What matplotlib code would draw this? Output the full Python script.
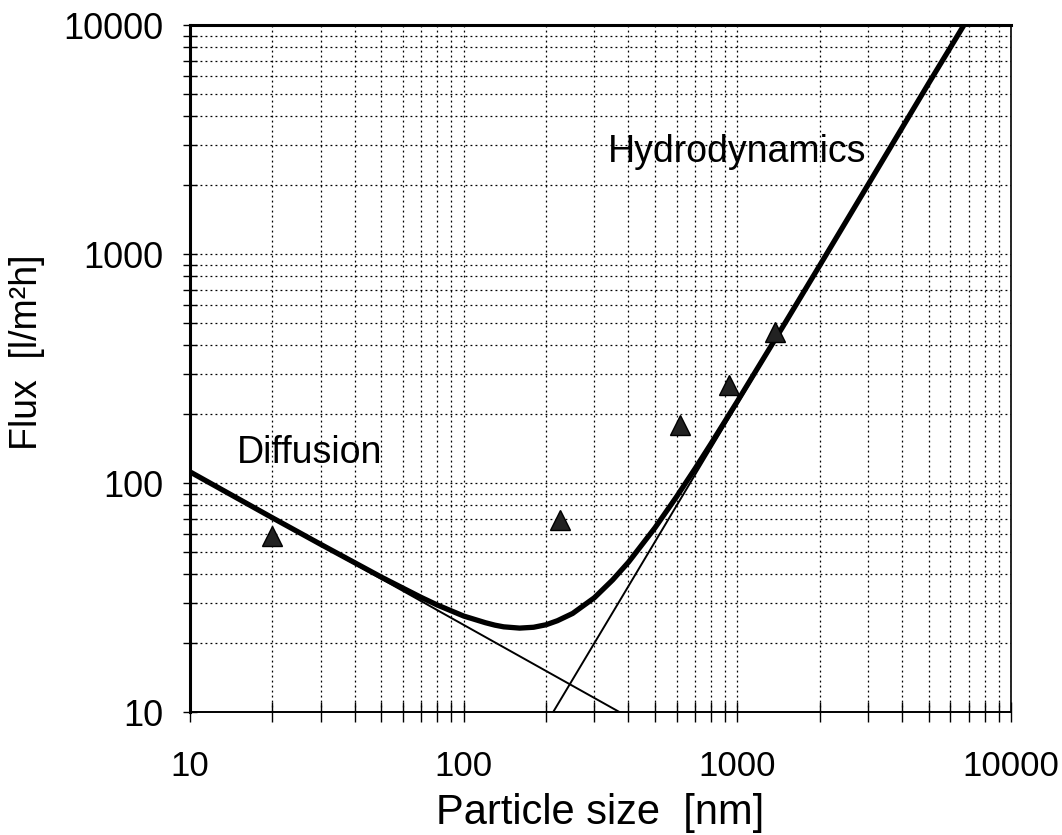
import matplotlib
matplotlib.use("Agg")
import matplotlib.pyplot as plt
from matplotlib.ticker import LogLocator, FixedLocator, NullFormatter

plt.rcParams['font.family'] = ['Liberation Sans', 'DejaVu Sans']

# measured flux for the different particle sizes
size_meas = [20, 225, 617, 930, 1370]
flux_meas = [59, 69, 179, 268, 456]

# diffusion limit (straight line on log-log axes)
diff_x = [10, 372]
diff_y = [112, 10]

# hydrodynamic limit
hydro_x = [212, 6730]
hydro_y = [10, 10000]

# combined model curve
model_x = [10, 20, 30, 50, 70, 80, 100, 120, 130, 140, 160, 180, 200, 220,
           250, 300, 350, 400, 500, 600, 700, 800, 1000, 1500, 2000, 3000,
           5000, 6730]
model_y = [112.0, 70.6, 54.1, 38.9, 31.7, 29.4, 26.3, 24.6, 24.0, 23.6, 23.3,
           23.5, 24.1, 25.1, 27.0, 31.6, 37.8, 45.2, 63.9, 87.4, 115.6, 148.4,
           227.7, 504.6, 893, 2005, 5564, 10000]

tick_vals = [10, 100, 1000, 10000]
tick_text = ['10', '100', '1000', '10000']

fig = plt.figure(figsize=(10.62, 8.35), dpi=100)
ax = fig.add_axes([0.179, 0.147, 0.773, 0.823])

ax.set_xscale('log')
ax.set_yscale('log')
ax.set_xlim(10, 10000)
ax.set_ylim(10, 10000)

ax.plot(diff_x, diff_y, color='black', lw=1.4, zorder=3)
ax.plot(hydro_x, hydro_y, color='black', lw=1.4, zorder=3)
ax.plot(model_x, model_y, color='black', lw=3.8, solid_capstyle='round', zorder=4)
ax.plot(size_meas, flux_meas, linestyle='none', marker='^', ms=15,
        color='#222222', markeredgecolor='black', zorder=5)

ax.text(14.85, 122, 'Diffusion', fontsize=27, va='baseline', ha='left')
ax.text(336, 2523, 'Hydrodynamics', fontsize=27, va='baseline', ha='left')

# grid on every decade and sub-decade
ax.xaxis.set_major_locator(FixedLocator(tick_vals))
ax.yaxis.set_major_locator(FixedLocator(tick_vals))
ax.xaxis.set_minor_locator(LogLocator(base=10, subs=range(2, 10)))
ax.yaxis.set_minor_locator(LogLocator(base=10, subs=range(2, 10)))
ax.xaxis.set_minor_formatter(NullFormatter())
ax.yaxis.set_minor_formatter(NullFormatter())
ax.set_xticklabels(tick_text)
ax.set_yticklabels(tick_text)

ax.grid(True, which='both', color='black', linestyle=(0, (1.5, 2.5)), lw=0.9)
ax.set_axisbelow(True)

ax.tick_params(axis='both', which='both', direction='inout', color='black',
               width=1.0)
ax.tick_params(axis='x', which='both', length=14, pad=20, labelsize=25)
ax.tick_params(axis='y', which='both', length=10, pad=14, labelsize=26)

ax.spines['left'].set_linewidth(2.2)
ax.spines['top'].set_linewidth(2.2)
ax.spines['right'].set_linewidth(1.2)
ax.spines['bottom'].set_linewidth(1.4)

ax.set_xlabel('Particle size  [nm]', fontsize=30)
ax.xaxis.set_label_coords(0.5, -0.118)
ax.set_ylabel('Flux  [l/m²h]', fontsize=27)
ax.yaxis.set_label_coords(-0.177, 0.524)

fig.savefig('out.png', dpi=100)
